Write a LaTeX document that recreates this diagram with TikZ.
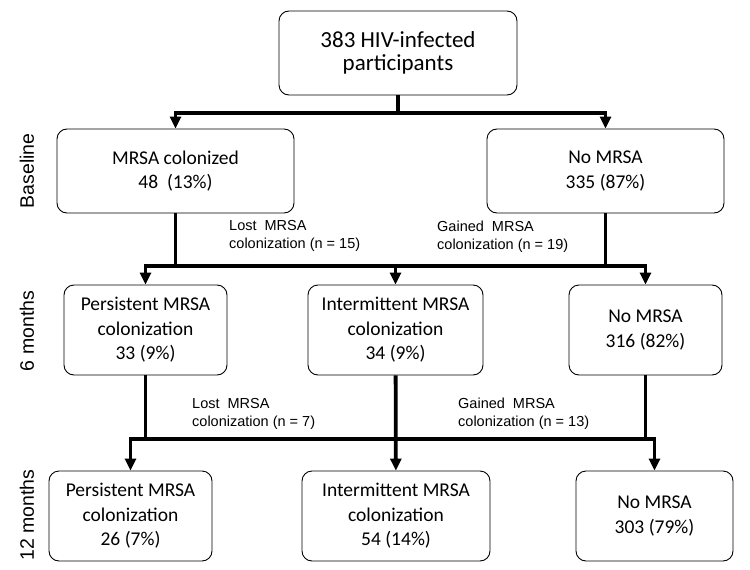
\documentclass[tikz,border=0pt]{standalone}
\usepackage{fontspec}
\setmainfont{Carlito}
\newfontfamily\arialfont{Liberation Sans}
\usetikzlibrary{arrows.meta}

\begin{document}
\begin{tikzpicture}[x=1pt, y=-1pt,
  box/.style={draw, rounded corners=10pt, line width=0.9pt, inner sep=0pt,
              align=center, font=\fontsize{19.5}{24.5}\selectfont},
  arr/.style={line width=3.8pt, -{Triangle[length=12pt, width=11pt]}},
  link/.style={line width=3.8pt},
  note/.style={anchor=north west, inner sep=0pt, align=left,
               font=\arialfont\fontsize{14.5}{18}\selectfont},
  phase/.style={rotate=90, inner sep=0pt, font=\arialfont\fontsize{19.5}{19.5}\selectfont}
]
\useasboundingbox (0,0) rectangle (750,570);

% cohort
\node[box, minimum width=238pt, minimum height=84pt,
      font=\fontsize{23}{22.5}\selectfont] (all) at (398,53) {383 HIV-infected\\participants};

% baseline
\node[box, minimum width=237pt, minimum height=84pt] (base1) at (175.5,171) {MRSA colonized\\48~ (13\%)};
\node[box, minimum width=237pt, minimum height=84pt] (base2) at (605.5,171) {No MRSA\\335 (87\%)};

% 6 months
\node[box, minimum width=163pt, minimum height=90pt] (six1) at (145.5,330) {Persistent MRSA\\colonization\\33 (9\%)};
\node[box, minimum width=175pt, minimum height=90pt] (six2) at (395.5,330) {Intermittent MRSA\\colonization\\34 (9\%)};
\node[box, minimum width=153pt, minimum height=90pt] (six3) at (645.5,330) {No MRSA\\316 (82\%)};

% 12 months
\node[box, minimum width=163pt, minimum height=90pt] (twl1) at (130.5,516) {Persistent MRSA\\colonization\\26 (7\%)};
\node[box, minimum width=188pt, minimum height=90pt] (twl2) at (396,516) {Intermittent MRSA\\colonization\\54 (14\%)};
\node[box, minimum width=157pt, minimum height=90pt] (twl3) at (654.5,516) {No MRSA\\303 (79\%)};

% phase labels
\node[phase] (lbase) at (27,171) {Baseline};
\node[phase] (lsix) at (27,331) {6 months};
\node[phase] (ltwl) at (27,515) {12 months};

% transitions
\node[note] (lost1) at (229,220) {Lost~~MRSA\\colonization (n = 15)};
\node[note] (gain1) at (437,221) {Gained~~MRSA\\colonization (n = 19)};
\node[note] (lost2) at (192,398) {Lost~~MRSA\\colonization (n = 7)};
\node[note] (gain2) at (458,398) {Gained~~MRSA\\colonization (n = 13)};

% connectors
\coordinate (h1) at (398,113);
\coordinate (h2) at (396,266);
\coordinate (h3) at (396,439);

\draw[link] (all) -- (h1);
\draw[arr] (h1) -| (base1);
\draw[arr] (h1) -| (base2);

\draw[link] (base1) -- (base1 |- h2);
\draw[link] (base2) -- (base2 |- h2);
\draw[arr] (h2) -| (six1);
\draw[arr] (h2) -| (six3);
\draw[arr] (h2 -| six2) -- (six2);

\draw[link] (six1) -- (six1 |- h3);
\draw[link] (six3) -- (six3 |- h3);
\draw[arr] (h3) -| (twl1);
\draw[arr] (h3) -| (twl3);
\draw[arr] (six2) -- (twl2);
\end{tikzpicture}
\end{document}
